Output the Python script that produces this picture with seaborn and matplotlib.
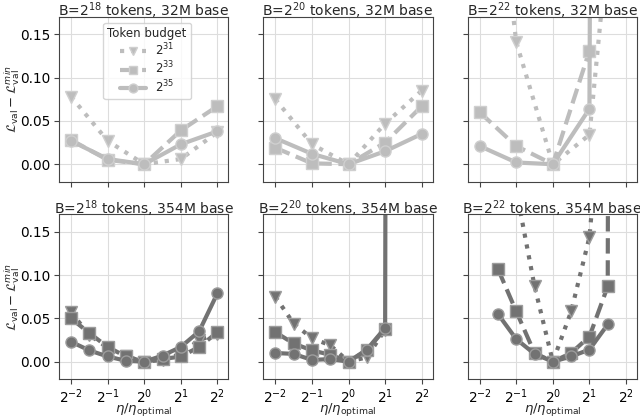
import numpy as np
import pandas as pd
import matplotlib
matplotlib.use("Agg")
import matplotlib.pyplot as plt
import seaborn as sns

sns.set_style("ticks")
plt.rcParams['font.family'] = ['DejaVu Sans']

# ---------------- data (x given as log2 exponents of eta/eta_opt) ----------------
budgets = ["$2^{31}$", "$2^{33}$", "$2^{35}$"]
titles_top = ["B=$2^{18}$ tokens, 32M base", "B=$2^{20}$ tokens, 32M base", "B=$2^{22}$ tokens, 32M base"]
titles_bot = ["B=$2^{18}$ tokens, 354M base", "B=$2^{20}$ tokens, 354M base", "B=$2^{22}$ tokens, 354M base"]

# top row, 32M base
tl_x = [-2, -1, 0, 1, 2]
tl_31 = [0.078, 0.027, 0.0, 0.006, 0.037]
tl_33 = [0.028, 0.005, 0.0, 0.039, 0.067]
tl_35 = [0.027, 0.006, 0.0, 0.023, 0.038]

tm_x = [-2, -1, 0, 1, 2]
tm_31 = [0.075, 0.023, 0.0, 0.047, 0.085]
tm_33 = [0.019, 0.001, 0.0, 0.025, 0.067]
tm_35 = [0.030, 0.012, 0.0, 0.015, 0.035]

tr_x31 = [-2, -1, 0, 1, 2]
tr_31 = [0.50, 0.141, 0.0, 0.034, 0.47]
tr_x33 = [-2, -1, 0, 1]
tr_33 = [0.060, 0.021, 0.0, 0.131]
tr_x35 = [-2, -1, 0, 1, 2]
tr_35 = [0.021, 0.002, 0.0, 0.064, 10.0]

# bottom row, 354M base
bl_x = [-2, -1.5, -1, -0.5, 0, 0.5, 1, 1.5, 2]
bl_31 = [0.057, 0.031, 0.016, 0.006, 0.0, 0.002, 0.009, 0.025, 0.032]
bl_33 = [0.050, 0.033, 0.017, 0.006, 0.0, 0.003, 0.006, 0.017, 0.034]
bl_35 = [0.023, 0.013, 0.006, 0.001, 0.0, 0.007, 0.017, 0.035, 0.079]

bm_x31 = [-2, -1.5, -1, -0.5, 0, 0.5, 1]
bm_31 = [0.075, 0.044, 0.027, 0.019, 0.0, 0.005, 0.037]
bm_x33 = [-2, -1.5, -1, -0.5, 0, 0.5, 1]
bm_33 = [0.034, 0.021, 0.013, 0.008, 0.0, 0.013, 0.038]
bm_x35 = [-2, -1.5, -1, -0.5, 0, 0.5, 1, 1.5]
bm_35 = [0.010, 0.009, 0.002, 0.003, 0.0, 0.014, 0.039, 10.0]

br_x31 = [-1, -0.5, 0, 0.5, 1, 1.5]
br_31 = [0.198, 0.087, 0.0, 0.058, 0.144, 0.38]
br_x33 = [-1.5, -1, -0.5, 0, 0.5, 1, 1.5, 2]
br_33 = [0.107, 0.058, 0.010, 0.0, 0.010, 0.029, 0.087, 10.0]
br_x35 = [-1.5, -1, -0.5, 0, 0.5, 1, 1.5]
br_35 = [0.055, 0.026, 0.009, 0.0, 0.006, 0.014, 0.043]

panels = [
    [(tl_x, tl_31), (tl_x, tl_33), (tl_x, tl_35)],
    [(tm_x, tm_31), (tm_x, tm_33), (tm_x, tm_35)],
    [(tr_x31, tr_31), (tr_x33, tr_33), (tr_x35, tr_35)],
    [(bl_x, bl_31), (bl_x, bl_33), (bl_x, bl_35)],
    [(bm_x31, bm_31), (bm_x33, bm_33), (bm_x35, bm_35)],
    [(br_x31, br_31), (br_x33, br_33), (br_x35, br_35)],
]

styles = [(":", "v"), ("--", "s"), ("-", "o")]
row_colors = ["#bdbdbd", "#727272"]
row_edges = ["#cfcfcf", "#9c9c9c"]

fig, axes = plt.subplots(2, 3, figsize=(6.4, 4.2), dpi=100, sharex=True, sharey=True)
fig.subplots_adjust(left=59/640, right=637/640, top=1-17/420, bottom=1-379/420,
                    wspace=0.206, hspace=0.2)

for i, ax in enumerate(axes.flat):
    row = i // 3
    for (xe, yv), (ls, mk), lab in zip(panels[i], styles, budgets):
        df = pd.DataFrame({"x": np.power(2.0, xe), "y": yv})
        sns.lineplot(data=df, x="x", y="y", ax=ax, color=row_colors[row], linestyle=ls,
                     marker=mk, markersize=8, linewidth=3, markeredgecolor=row_edges[row],
                     markeredgewidth=1.0, label=lab if i == 0 else None, legend=False)
    ax.set_xscale("log", base=2)
    ax.set_xlim(2 ** -2.33, 2 ** 2.3)
    ax.set_ylim(-0.02, 0.17)
    ax.set_xticks([0.25, 0.5, 1, 2, 4])
    ax.set_yticks([0.0, 0.05, 0.10, 0.15])
    ax.minorticks_off()
    ax.grid(True, color="#dddddd", linewidth=0.8)
    for s in ax.spines.values():
        s.set_color("#444444")
    ax.tick_params(labelsize=9.8, colors="#444444", labelcolor="black", length=3.5, pad=2.5)
    ax.set_title(titles_top[i] if row == 0 else titles_bot[i - 3], fontsize=10, y=1.0, pad=0.5)
    ax.set_xlabel(r"$\eta/\eta_{\rm optimal}$" if row == 1 else "", fontsize=9.5)
    ax.xaxis.set_label_coords(0.5, -0.134)
    ax.set_ylabel(r"$\mathcal{L}_{\rm val}-\mathcal{L}_{\rm val}^{min}$" if i % 3 == 0 else "",
                  fontsize=9.5)
    ax.yaxis.set_label_coords(-0.22, 0.5)

axes[0, 0].yaxis.set_major_formatter(matplotlib.ticker.FormatStrFormatter("%.2f"))
leg = axes[0, 0].legend(title="Token budget", loc="upper center", fontsize=8.5, title_fontsize=8.5,
                        handlelength=2.2, labelspacing=0.15, borderpad=0.35, markerscale=0.8,
                        bbox_to_anchor=(0.52, 1.0))

fig.savefig("out.png", dpi=100)
